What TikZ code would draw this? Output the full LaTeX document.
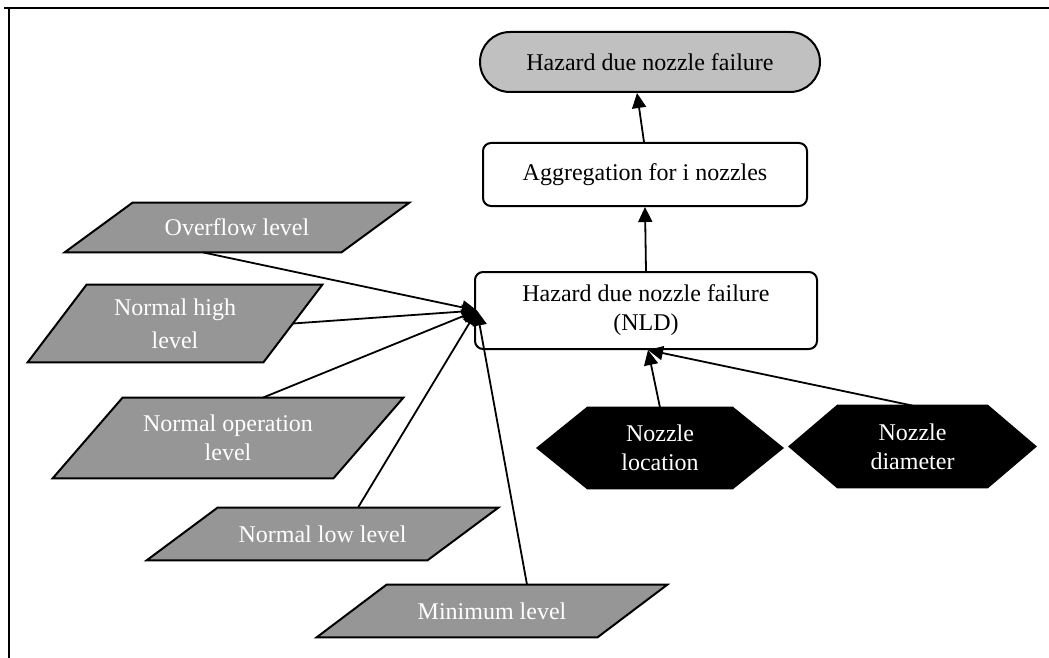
\documentclass[tikz,border=0pt]{standalone}
\usepackage{fontspec}
\setmainfont{Liberation Serif}
\usetikzlibrary{arrows.meta,calc,backgrounds,shapes.misc}
\definecolor{paragray}{HTML}{969696}
\definecolor{ellgray}{HTML}{C0C0C0}
\newcommand\paraoutline[2]{%
  \path[draw, line width=1pt, fill=paragray] ([xshift=#2]#1.north west) -- (#1.north east) -- ([xshift=-#2]#1.south east) -- (#1.south west) -- cycle;}
\newcommand\hexoutline[2]{%
  \path[draw, line width=1pt, fill=black] (#1.west) -- ([xshift=#2]#1.north west) -- ([xshift=-#2]#1.north east) -- (#1.east) -- ([xshift=-#2]#1.south east) -- ([xshift=#2]#1.south west) -- cycle;}
\begin{document}
\begin{tikzpicture}[x=0.5pt,y=-0.5pt,
  every node/.style={font=\fontsize{12pt}{14.5pt}\selectfont, inner sep=0pt, align=center},
  arr/.style={-{Triangle[length=7.5pt,width=7pt]}, line width=0.9pt},
  rbox/.style={draw, line width=1pt, rounded corners=4pt, fill=white},
  ellbox/.style={rounded rectangle, draw, line width=1pt, fill=ellgray},
  para/.style={text=white},
  hexa/.style={text=white},
]
\useasboundingbox (0,0) rectangle (1049,658);
% frame
\draw[line width=1pt] (4,8) -- (1049,8);
\draw[line width=1pt] (9,8) -- (9,658);

% top goal
\node[ellbox, minimum width=170pt, minimum height=30pt] (top) at (650,62) {Hazard due nozzle failure};
% aggregation
\node[rbox, minimum width=162pt, minimum height=31.5pt] (agg) at (645,174.5) {Aggregation for i nozzles};
% NLD
\node[rbox, minimum width=171pt, minimum height=38.5pt] (nld) at (646,310.5) {Hazard due nozzle failure\\(NLD)};

% parallelograms
\node[para, minimum width=172pt, minimum height=24.5pt] (ovf) at (237,227.5) {Overflow level};
\node[para, minimum width=147pt, minimum height=38.5pt] (nh) at (175,323.5) {Normal high\\[2pt]level};
\node[para, minimum width=175pt, minimum height=40pt] (no) at (228,438) {Normal operation\\level};
\node[para, minimum width=175.5pt, minimum height=26pt] (nl) at (322.5,534) {Normal low level};
\node[para, minimum width=175pt, minimum height=26pt] (mn) at (492,611) {Minimum level};

% hexagons
\node[hexa, minimum width=122pt, minimum height=40pt] (loc) at (660,448) {Nozzle\\location};
\node[hexa, minimum width=122.5pt, minimum height=40.5pt] (dia) at (912.5,446.5) {Nozzle\\diameter};

\begin{scope}[on background layer]
  \paraoutline{ovf}{34pt}
  \paraoutline{nh}{29.5pt}
  \paraoutline{no}{35pt}
  \paraoutline{nl}{35.5pt}
  \paraoutline{mn}{35pt}
  \hexoutline{loc}{25pt}
  \hexoutline{dia}{24pt}
\end{scope}

% connectors
\draw[arr] ([xshift=-0.5pt]agg.north) -- ([xshift=-6.5pt]top.south);
\draw[arr] (nld.north) -- (agg.south);
\coordinate (conv) at ([xshift=1.5pt]nld.west);
\draw[arr] ([xshift=-17pt]ovf.south) -- (conv);
\draw[arr] ([xshift=-14.75pt]nh.east) -- (conv);
\draw[arr] ([xshift=17.5pt]no.north) -- (conv);
\draw[arr] ([xshift=17.75pt]nl.north) -- (conv);
\draw[arr] ([xshift=17.5pt]mn.north) -- (conv);
\draw[arr] (loc.north) -- ([xshift=1pt]nld.south);
\draw[arr] (dia.north) -- ([xshift=1pt]nld.south);
\end{tikzpicture}
\end{document}
